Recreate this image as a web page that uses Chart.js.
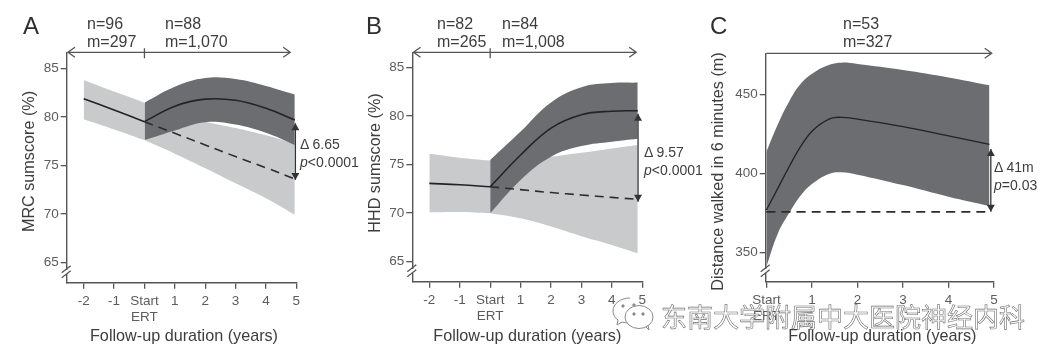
<!DOCTYPE html>
<html>
<head>
<meta charset="utf-8">
<script src="https://cdn.jsdelivr.net/npm/chart.js@4/dist/chart.umd.min.js"></script>
<style>
  html, body { margin: 0; padding: 0; background: #fff; }
  body { position: relative; width: 1058px; height: 361px; overflow: hidden; font-family: "Liberation Sans", Arial, sans-serif; color: #3d3d3d; filter: blur(0.35px); }
  canvas { position: absolute; top: 0; }
  .t { position: absolute; white-space: nowrap; transform: translateY(-50%); }
  .letter { font-size: 24px; color: #2e2e2e; }
  .count { font-size: 16px; }
  .delta { font-size: 14px; }
  #stamp { position: absolute; left: 661px; top: 299px; font: 26px/34px "Noto Sans CJK SC"; letter-spacing: 0; color: rgba(255,255,255,.72); -webkit-text-stroke: .6px #6f6f6f; white-space: nowrap; }
  #logo { position: absolute; left: 610px; top: 294px; }
</style>
</head>
<body>
<canvas id="chartA"></canvas>
<canvas id="chartB"></canvas>
<canvas id="chartC"></canvas>

<div class="t letter" style="left:23px;top:26px">A</div>
<div class="t count" style="left:87px;top:24px">n=96</div>
<div class="t count" style="left:87px;top:42px">m=297</div>
<div class="t count" style="left:165px;top:24px">n=88</div>
<div class="t count" style="left:165px;top:42px">m=1,070</div>
<div class="t delta" style="left:300px;top:144px">Δ 6.65</div>
<div class="t delta" style="left:300px;top:162px"><i>p</i>&lt;0.0001</div>

<div class="t letter" style="left:366px;top:26px">B</div>
<div class="t count" style="left:437px;top:24px">n=82</div>
<div class="t count" style="left:437px;top:42px">m=265</div>
<div class="t count" style="left:502px;top:24px">n=84</div>
<div class="t count" style="left:502px;top:42px">m=1,008</div>
<div class="t delta" style="left:644px;top:152px">Δ 9.57</div>
<div class="t delta" style="left:644px;top:170px"><i>p</i>&lt;0.0001</div>

<div class="t letter" style="left:710px;top:26px">C</div>
<div class="t count" style="left:843px;top:24px">n=53</div>
<div class="t count" style="left:843px;top:42px">m=327</div>
<div class="t delta" style="left:994px;top:167px">Δ 41m</div>
<div class="t delta" style="left:994px;top:185px"><i>p</i>=0.03</div>

<svg id="logo" width="46" height="38" fill="none" stroke="#8a8a8a" stroke-width="1">
  <path d="M20 4C10 4 3 10 3 17c0 4 2 7 5 9l-1 5 5-3c2 .6 4 1 6 1"/>
  <ellipse cx="29" cy="23" rx="14" ry="11.5" fill="#fff"/>
  <path d="M36 33l3 3-1-5"/>
  <circle cx="24" cy="20" r="1.2" fill="#8a8a8a"/>
  <circle cx="33" cy="20" r="1.2" fill="#8a8a8a"/>
  <circle cx="13" cy="12" r="1.2" fill="#8a8a8a"/>
  <circle cx="24" cy="11" r="1.2" fill="#8a8a8a"/>
</svg>
<div id="stamp">东南大学附属中大医院神经内科</div>

<script>
// panel A, MRC sumscore
const aPreYears = [-2, -1, 0];
const aPreUpper = [83.8, 82.6, 81.46];
const aPreLower = [79.74, 78.7, 77.6];
const aPreMean = [81.87, 80.7, 79.5];
const aPostYears = [0, 1, 2, 3, 4, 4.95];
const aPostUpper = [81.46, 83.1, 84.0, 83.9, 83.18, 82.3];
const aPostLower = [77.6, 78.6, 79.45, 79.2, 78.35, 77.1];
const aPostMean = [79.5, 81.1, 81.82, 81.7, 80.88, 79.67];
const aUntreatedYears = [0, 1, 2, 3, 4, 4.95];
const aUntreatedUpper = [81.46, 80.4, 79.5, 78.85, 78.1, 77.27];
const aUntreatedLower = [77.6, 76.2, 74.7, 73.15, 71.6, 69.9];
const aUntreatedMean = [79.5, 78.3, 77.1, 75.9, 74.75, 73.6];

// panel B, HHD sumscore
const bPreYears = [-2, -1, 0];
const bPreUpper = [76.1, 75.7, 75.4];
const bPreLower = [70.07, 70.1, 69.97];
const bPreMean = [73.05, 72.9, 72.7];
const bPostYears = [0, 1, 2, 3, 4, 4.85];
const bPostUpper = [75.46, 78.4, 81.4, 82.97, 83.4, 83.45];
const bPostLower = [69.97, 73.4, 75.8, 76.9, 77.35, 77.66];
const bPostMean = [72.7, 75.98, 78.76, 80.14, 80.5, 80.55];
const bUntreatedYears = [0, 1, 2, 3, 4, 4.85];
const bUntreatedUpper = [75.4, 75.5, 75.8, 76.2, 76.65, 77.0];
const bUntreatedLower = [69.97, 69.45, 68.6, 67.6, 66.7, 65.83];
const bUntreatedMean = [72.7, 72.4, 72.1, 71.85, 71.6, 71.4];

// panel C, six minute walk
const cYears = [0, 0.25, 0.5, 0.75, 1.03, 1.4, 1.65, 2, 3, 4, 4.9];
const cUpper = [413.8, 431, 445.5, 456.5, 463.5, 468.8, 470, 469.2, 465.4, 460.7, 455.7];
const cLower = [341.2, 362, 375, 386, 394, 400, 400.8, 399.3, 392.7, 385.4, 379.5];
const cMean = [377, 390.6, 404.3, 417, 427.5, 434.6, 435.5, 434.4, 429.6, 423.7, 418.4];
const cUntreatedYears = [0, 4.93];
const cUntreatedMean = [375.8, 375.8];

// axis ticks
const abYearTicks = [-2, -1, 0, 1, 2, 3, 4, 5];
const cYearTicks = [0, 1, 2, 3, 4, 5];
const sumscoreTicks = [65, 70, 75, 80, 85];
const walkTicks = [350, 400, 450];

// follow-up spans and delta arrows [x, top value, bottom value]
const aSpan = [-2.52, 0, 4.8];
const bSpan = [-2.52, 0, 4.8];
const cSpan = [0, null, 4.95];
const aDelta = [4.97, 79.33, 73.49];
const bDelta = [4.86, 80.24, 71.16];
const cDelta = [4.93, 415.5, 375.9];

const lightGrey = "#c9cacc";
const darkGrey = "#6c6d71";
const lineDark = "#232325";
const axisGrey = "#555";

const pts = (xs, ys) => xs.map((x, i) => ({ x, y: ys[i] }));

const curve = (xs, ys, extra) => ({
  data: pts(xs, ys),
  pointRadius: 0,
  borderWidth: 0,
  tension: 0.4,
  fill: false,
  ...extra,
});
const band = (xs, up, low, color) => [
  curve(xs, up, { fill: "+1", backgroundColor: color }),
  curve(xs, low, {}),
];
const meanLine = (xs, ys, width) => curve(xs, ys, { borderColor: lineDark, borderWidth: width });
const dashLine = (xs, ys) => curve(xs, ys, { borderColor: "#2c2c2e", borderWidth: 1.6, borderDash: [9, 6] });

// top arrow, break in the y axis, delta arrow
const panelMarks = {
  id: "panelMarks",
  afterDraw(chart) {
    const { ctx, chartArea: area, scales: { x, y } } = chart;
    const { span, delta } = chart.options.plugins.panelMarks;
    ctx.save();
    ctx.strokeStyle = axisGrey;
    ctx.lineWidth = 1.3;

    // span arrow along the top
    const top = area.top;
    const x0 = x.getPixelForValue(span[0]);
    const x1 = x.getPixelForValue(span[2]);
    ctx.beginPath();
    ctx.moveTo(x0, top);
    ctx.lineTo(x1, top);
    ctx.moveTo(x1 - 7, top - 5);
    ctx.lineTo(x1, top);
    ctx.lineTo(x1 - 7, top + 5);
    if (span[1] !== null) {
      const xm = x.getPixelForValue(span[1]);
      ctx.moveTo(x0 + 7, top - 5);
      ctx.lineTo(x0, top);
      ctx.lineTo(x0 + 7, top + 5);
      ctx.moveTo(xm, top - 4);
      ctx.lineTo(xm, top + 6);
    }
    ctx.stroke();

    // axis break
    const by = area.bottom - 11;
    ctx.clearRect(area.left - 2, by - 2, 4, 4);
    ctx.beginPath();
    ctx.moveTo(area.left - 5, by + 1);
    ctx.lineTo(area.left + 4, by - 6);
    ctx.moveTo(area.left - 5, by + 6);
    ctx.lineTo(area.left + 4, by - 1);
    ctx.stroke();

    // delta arrow
    const dx = x.getPixelForValue(delta[0]);
    const dTop = y.getPixelForValue(delta[1]);
    const dBot = y.getPixelForValue(delta[2]);
    ctx.strokeStyle = "#333";
    ctx.fillStyle = "#333";
    ctx.beginPath();
    ctx.moveTo(dx, dTop);
    ctx.lineTo(dx, dBot);
    ctx.stroke();
    ctx.beginPath();
    ctx.moveTo(dx, dTop);
    ctx.lineTo(dx - 4, dTop + 7);
    ctx.lineTo(dx + 4, dTop + 7);
    ctx.closePath();
    ctx.moveTo(dx, dBot);
    ctx.lineTo(dx - 4, dBot - 7);
    ctx.lineTo(dx + 4, dBot - 7);
    ctx.closePath();
    ctx.fill();
    ctx.restore();
  },
};

const fixedTicks = values => scale => {
  scale.ticks = values.map(value => ({ value }));
};
const noScalePadding = scale => {
  scale.paddingLeft = scale.paddingRight = scale.paddingTop = scale.paddingBottom = 0;
};
// the printed axis titles are not quite centred on their axes
const shiftTitle = (scale, dx, dy) => {
  if (scale.titleShifted) return;
  const drawTitle = scale.drawTitle;
  scale.drawTitle = function () {
    this.ctx.save();
    this.ctx.translate(dx, dy);
    drawTitle.call(this);
    this.ctx.restore();
  };
  scale.titleShifted = true;
};

function makePanel(id, box, datasets, opts) {
  const canvas = document.getElementById(id);
  canvas.width = box.w;
  canvas.height = 361;
  canvas.style.left = box.left + "px";
  canvas.style.width = box.w + "px";
  canvas.style.height = "361px";
  return new Chart(canvas, {
    type: "line",
    data: { datasets },
    plugins: [panelMarks],
    options: {
      responsive: false,
      animation: false,
      layout: { padding: { left: 0, top: box.top, right: box.w - box.right, bottom: 0 } },
      plugins: {
        legend: { display: false },
        tooltip: { enabled: false },
        panelMarks: { span: opts.span, delta: opts.delta },
      },
      scales: {
        x: {
          type: "linear",
          min: opts.xMin,
          max: 5,
          afterBuildTicks: fixedTicks(opts.xTicks),
          afterFit: scale => {
            noScalePadding(scale);
            scale.height = 361 - box.axisY;
            shiftTitle(scale, opts.xTitleShift, 0);
          },
          border: { color: axisGrey, width: 1.4 },
          grid: { drawOnChartArea: false, color: axisGrey, lineWidth: 1.3, tickLength: 6 },
          ticks: {
            autoSkip: false,
            maxRotation: 0,
            padding: 4,
            color: "#5c5c5c",
            font: { family: "Liberation Sans", size: 13.5 },
            callback: v => (v === 0 ? ["Start", opts.startLabel] : String(v)),
          },
          title: {
            display: true,
            text: "Follow-up duration (years)",
            color: "#3d3d3d",
            font: { family: "Liberation Sans", size: 16.2 },
            padding: { top: 0, bottom: 14.7 },
          },
        },
        y: {
          min: opts.yMin,
          max: opts.yMax,
          afterBuildTicks: fixedTicks(opts.yTicks),
          afterFit: scale => {
            noScalePadding(scale);
            scale.width = box.axisX;
            shiftTitle(scale, 0, opts.titleShift);
          },
          border: { color: axisGrey, width: 1.4 },
          grid: { drawOnChartArea: false, color: axisGrey, lineWidth: 1.3, tickLength: 6 },
          ticks: {
            padding: 2,
            color: "#5c5c5c",
            font: { family: "Liberation Sans", size: 13.5 },
          },
          title: {
            display: true,
            text: opts.yTitle,
            color: "#3d3d3d",
            font: { family: "Liberation Sans", size: 16.2 },
            padding: { top: opts.titleInset, bottom: 0 },
          },
        },
      },
    },
  });
}

makePanel("chartA",
  { left: 0, w: 350, top: 52.3, right: 296.3, axisX: 66.7, axisY: 282.7 },
  [
    meanLine(aPreYears, aPreMean, 1.6),
    meanLine(aPostYears, aPostMean, 1.6),
    dashLine(aUntreatedYears, aUntreatedMean),
    ...band(aPostYears, aPostUpper, aPostLower, darkGrey),
    ...band(aPreYears, aPreUpper, aPreLower, lightGrey),
    ...band(aUntreatedYears, aUntreatedUpper, aUntreatedLower, lightGrey),
  ],
  { xMin: -2.56, yMin: 62.9, yMax: 86.65, xTicks: abYearTicks, yTicks: sumscoreTicks, span: aSpan, delta: aDelta,
    yTitle: "MRC sumscore (%)", titleInset: 20, titleShift: -6, xTitleShift: 2.5, startLabel: "ERT" });

makePanel("chartB",
  { left: 350, w: 350, top: 52.3, right: 292.3, axisX: 62.3, axisY: 281.7 },
  [
    meanLine(bPreYears, bPreMean, 1.6),
    meanLine(bPostYears, bPostMean, 1.6),
    dashLine(bUntreatedYears, bUntreatedMean),
    ...band(bPostYears, bPostUpper, bPostLower, darkGrey),
    ...band(bPreYears, bPreUpper, bPreLower, lightGrey),
    ...band(bUntreatedYears, bUntreatedUpper, bUntreatedLower, lightGrey),
  ],
  { xMin: -2.56, yMin: 62.9, yMax: 86.58, xTicks: abYearTicks, yTicks: sumscoreTicks, span: bSpan, delta: bDelta,
    yTitle: "HHD sumscore (%)", titleInset: 16, titleShift: -4, xTitleShift: 0, startLabel: "ERT" });

makePanel("chartC",
  { left: 700, w: 358, top: 53.3, right: 294, axisX: 65.7, axisY: 281.7 },
  [
    meanLine(cYears, cMean, 1.3),
    dashLine(cUntreatedYears, cUntreatedMean),
    ...band(cYears, cUpper, cLower, darkGrey),
  ],
  { xMin: -0.015, yMin: 331.7, yMax: 475.9, xTicks: cYearTicks, yTicks: walkTicks, span: cSpan, delta: cDelta,
    yTitle: "Distance walked in 6 minutes (m)", titleInset: 9, titleShift: 4, xTitleShift: 2.5, startLabel: "ERT" });
</script>
</body>
</html>
